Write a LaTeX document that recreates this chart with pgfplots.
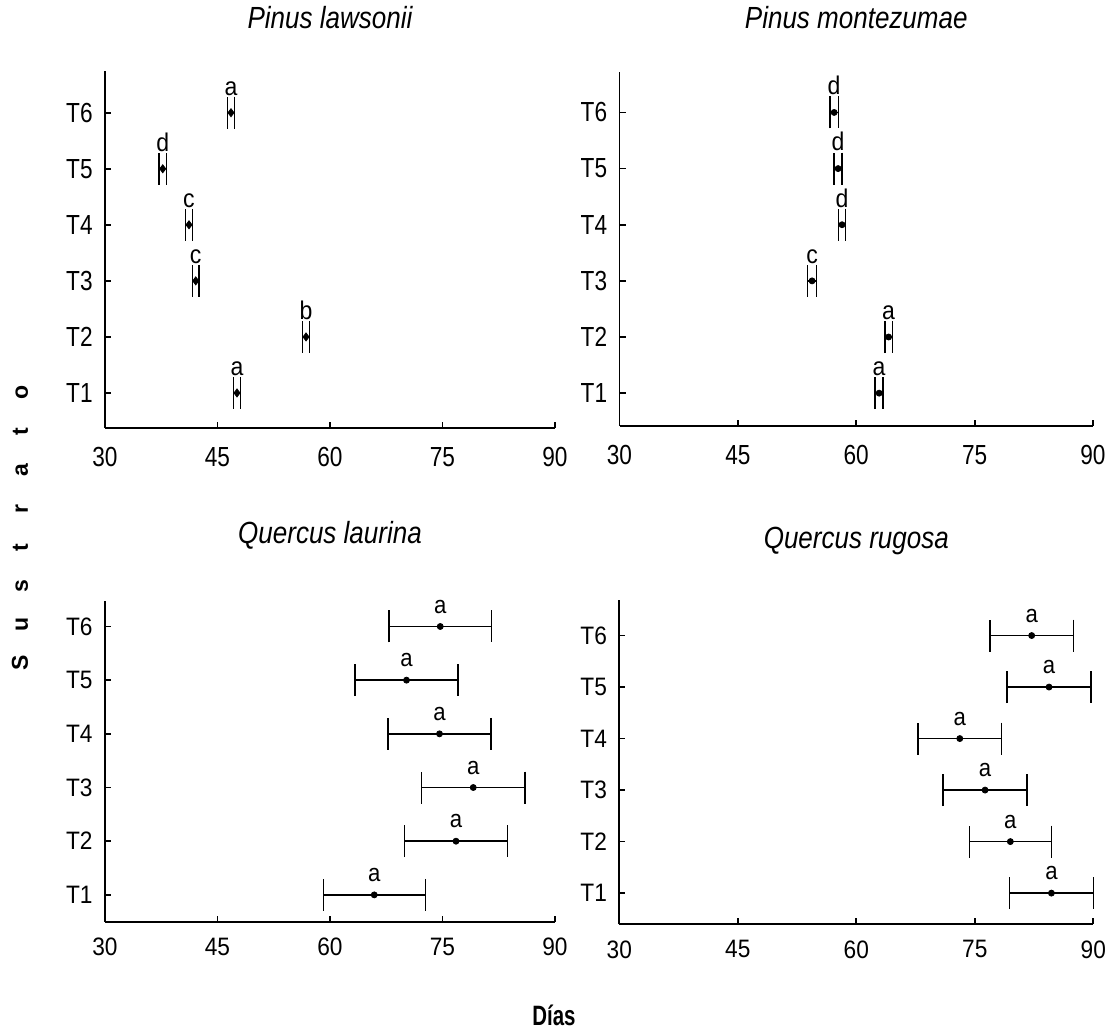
\documentclass[border=0pt]{standalone}
\usepackage{fontspec}
\setmainfont{Liberation Sans}
\newfontfamily\tickA{Liberation Sans}[FakeStretch=0.82]
\newfontfamily\tickB{Liberation Sans}[FakeStretch=0.9]
\newfontfamily\titlefont{Liberation Sans}[FakeStretch=0.85]
\newfontfamily\boldnarrow{Liberation Sans}[FakeStretch=0.73]
\usepackage{pgfplots}
\pgfplotsset{compat=1.18}
\pgfplotsset{
  panel/.style={
    scale only axis, clip=false,
    axis x line=bottom, axis y line=left,
    axis line style={-, line width=0.9pt, black},
    xmin=30, xmax=90, xtick={30,45,60,75,90},
    ytick={1,2,3,4,5,6}, yticklabels={T1,T2,T3,T4,T5,T6},
    tick align=inside, major tick length=3pt,
    tick style={line width=0.9pt, black},
    /pgf/number format/assume math mode=true,
    yticklabel style={inner sep=0pt, anchor=east, xshift=-6pt},
    xticklabel style={inner sep=0pt, anchor=north},
    title style={at={(0.5,1)}, anchor=center, font=\fontsize{15.3pt}{18pt}\titlefont\itshape},
    point meta=explicit symbolic,
    nodes near coords,
    every node near coord/.append style={inner sep=0pt, anchor=south, black},
  },
  toppanel/.style={
    ticklabel style={font=\fontsize{13.8pt}{16pt}\tickA},
    xticklabel style={yshift=-9.5pt},
    every node near coord/.append style={yshift=8.5pt, font=\fontsize{12.8pt}{14pt}\tickB},
  },
  botpanel/.style={
    ticklabel style={font=\fontsize{12.6pt}{15pt}\tickB},
    xticklabel style={yshift=-8pt},
    every node near coord/.append style={yshift=6.3pt, font=\fontsize{12.3pt}{14pt}\tickB},
  },
  pts/.style={only marks, black, mark=*, mark size=1.5pt,
    error bars/x dir=both, error bars/x explicit,
    error bars/error bar style={line width=0.7pt, black},
    error bars/error mark options={rotate=90, mark size=8pt, line width=0.7pt, black}},
}
\begin{document}
\begin{tikzpicture}
\path[use as bounding box] (0pt,0pt) rectangle (555pt,-515pt);

% Pinus lawsonii
\begin{axis}[panel, toppanel, at={(52.5pt,-213.85pt)}, anchor=south west,
  width=225pt, height=178.5pt, ymin=0.38, ymax=6.75,
  title={Pinus lawsonii}, title style={yshift=20.5pt}]
\addplot[pts, mark=diamond*, mark size=2pt] table[x=x, y=y, x error=e, meta=l] {
x y e l
47.6 1 0.5 a
56.8 2 0.45 b
42.1 3 0.42 c
41.2 4 0.45 c
37.7 5 0.5 d
46.8 6 0.5 a
};
\end{axis}

% Pinus montezumae
\begin{axis}[panel, toppanel, at={(309.75pt,-212.85pt)}, anchor=south west,
  width=236.75pt, height=176.85pt, ymin=0.42, ymax=6.72,
  title={Pinus montezumae}, title style={yshift=21pt}]
\addplot[pts] table[x=x, y=y, x error=e, meta=l] {
x y e l
62.9 1 0.5 a
64.1 2 0.48 a
54.4 3 0.55 c
58.2 4 0.47 d
57.7 5 0.5 d
57.2 6 0.55 d
};
\end{axis}

% Quercus laurina
\begin{axis}[panel, botpanel, at={(52.5pt,-460.85pt)}, anchor=south west,
  width=225pt, height=160.5pt, ymin=0.5, ymax=6.48,
  title={Quercus laurina}, title style={yshift=26.8pt}]
\addplot[pts] table[x=x, y=y, x error=e, meta=l] {
x y e l
65.9 1 6.8 a
76.8 2 6.85 a
79.1 3 6.9 a
74.6 4 6.85 a
70.2 5 6.85 a
74.7 6 6.85 a
};
\end{axis}

% Quercus rugosa
\begin{axis}[panel, botpanel, at={(309.65pt,-462pt)}, anchor=south west,
  width=237pt, height=162pt, ymin=0.4, ymax=6.69,
  title={Quercus rugosa}, title style={yshift=23.5pt}]
\addplot[pts] table[x=x, y=y, x error=e, meta=l] {
x y e l
84.7 1 5.3 a
79.5 2 5.2 a
76.3 3 5.3 a
73.1 4 5.3 a
84.4 5 5.3 a
82.2 6 5.3 a
};
\end{axis}

\node[rotate=90, font=\fontsize{11.5pt}{13pt}\selectfont\bfseries] at (10pt,-264pt)
  {\makebox[19.3pt]{S}\makebox[19.3pt]{u}\makebox[19.3pt]{s}\makebox[19.3pt]{t}\makebox[19.3pt]{r}\makebox[19.3pt]{a}\makebox[19.3pt]{t}\makebox[19.3pt]{o}};
\node[font=\fontsize{14pt}{16pt}\boldnarrow\bfseries] at (277pt,-507.5pt) {Días};
\end{tikzpicture}
\end{document}
